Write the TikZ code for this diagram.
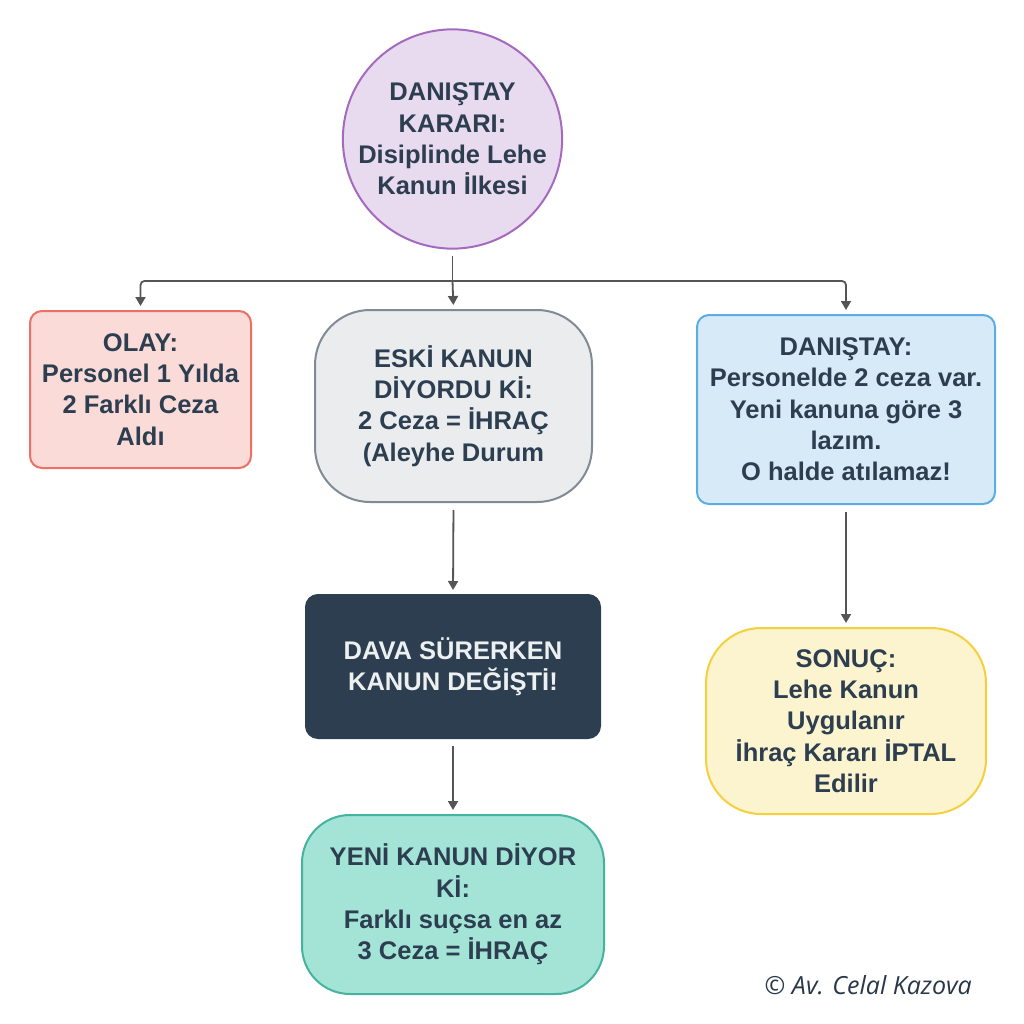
\documentclass[tikz,border=0pt]{standalone}
\usepackage{fontspec}
\setmainfont{Liberation Sans}
\newfontfamily\signfont{Open Sans}
\usetikzlibrary{arrows.meta}
\definecolor{txt}{HTML}{2C3E50}
\definecolor{arr}{HTML}{555555}
\definecolor{pfill}{HTML}{E8DAEF}\definecolor{pline}{HTML}{A569BD}
\definecolor{rfill}{HTML}{FADBD8}\definecolor{rline}{HTML}{EC7063}
\definecolor{gfill}{HTML}{EAECEE}\definecolor{gline}{HTML}{808B96}
\definecolor{bfill}{HTML}{D6EAF8}\definecolor{bline}{HTML}{5DADE2}
\definecolor{dfill}{HTML}{2C3E50}\definecolor{dtxt}{HTML}{ECF0F1}
\definecolor{tfill}{HTML}{A3E4D7}\definecolor{tline}{HTML}{45B39D}
\definecolor{yfill}{HTML}{FCF3CF}\definecolor{yline}{HTML}{F4D03F}
\tikzset{
  base/.style={line width=2pt, align=center, text=txt, inner sep=0pt,
    font=\fontsize{25.5}{31.3}\selectfont\bfseries},
  rbox/.style={base, rectangle, rounded corners=#1},
  conn/.style={draw=arr, line width=1.8pt, -{Triangle[length=9pt,width=10pt]}, shorten >=4pt},
}
\begin{document}
\begin{tikzpicture}[x=1pt,y=-1pt]
\useasboundingbox[fill=white] (0,0) rectangle (1024,1024);
\node[base, circle, draw=pline, fill=pfill, minimum size=219pt] (top) at (452.5,139) {DANIŞTAY\\KARARI:\\Disiplinde Lehe\\Kanun İlkesi};
\node[rbox=12pt, draw=rline, fill=rfill, minimum width=221pt, minimum height=157pt] (olay) at (140.5,389.5) {OLAY:\\Personel 1 Yılda\\2 Farklı Ceza\\Aldı};
\node[rbox=55pt, draw=gline, fill=gfill, minimum width=277pt, minimum height=192pt] (eski) at (453.5,406) {ESKİ KANUN\\DİYORDU Kİ:\\2 Ceza = İHRAÇ\\(Aleyhe Durum};
\node[rbox=12pt, draw=bline, fill=bfill, minimum width=298pt, minimum height=189pt] (dan) at (846,409.5) {DANIŞTAY:\\Personelde 2 ceza var.\\Yeni kanuna göre 3\\lazım.\\O halde atılamaz!};
\node[rbox=12pt, draw=dfill, fill=dfill, text=dtxt, minimum width=294pt, minimum height=143pt] (dava) at (453,666.5) {DAVA SÜRERKEN\\KANUN DEĞİŞTİ!};
\node[rbox=48pt, draw=tline, fill=tfill, minimum width=302pt, minimum height=179pt] (yeni) at (453,904.5) {YENİ KANUN DİYOR\\Kİ:\\Farklı suçsa en az\\3 Ceza = İHRAÇ};
\node[rbox=55pt, draw=yline, fill=yfill, minimum width=280pt, minimum height=186pt] (sonuc) at (846,721) {SONUÇ:\\Lehe Kanun\\Uygulanır\\İhraç Kararı İPTAL\\Edilir};
\coordinate (j) at (452.5,281);
\draw[draw=arr, line width=1.8pt, shorten <=6pt] (top.south) -- (j);
\draw[conn, rounded corners=4pt] (j) -| (olay.north);
\draw[conn] (j) -- (eski.north);
\draw[conn, rounded corners=4pt] (j) -| (dan.north);
\draw[conn, shorten <=7pt] (eski.south) -- (dava.north);
\draw[conn, shorten <=7pt] (dava.south) -- (yeni.north);
\draw[conn, shorten <=7pt] (dan.south) -- (sonuc.north);
\node[font=\signfont\itshape\fontsize{25}{30}\selectfont, text=txt!90!black, anchor=east, inner sep=0pt] (sign) at (972,985) {© Av. Celal Kazova};
\end{tikzpicture}
\end{document}
